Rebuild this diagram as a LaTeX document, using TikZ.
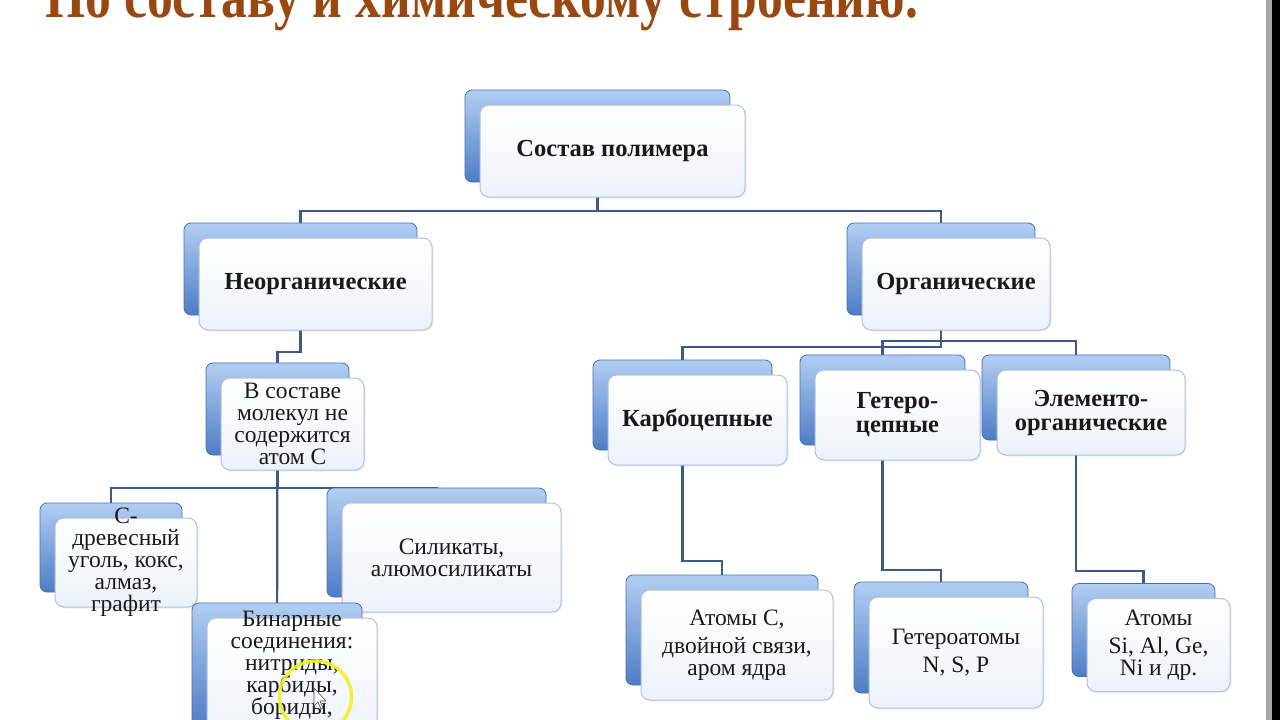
\documentclass[tikz,border=0pt]{standalone}
\usepackage{fontspec}
\usepackage{graphicx}
\setmainfont{Liberation Serif}
\usetikzlibrary{backgrounds,shadows}
\pgfdeclarelayer{bottom}
\pgfsetlayers{bottom,background,main}
\definecolor{conn}{RGB}{58,90,136}
\definecolor{backtop}{RGB}{178,206,242}
\definecolor{backbot}{RGB}{78,124,198}
\definecolor{backedge}{RGB}{70,112,180}
\definecolor{frontedge}{RGB}{176,194,220}
\definecolor{frontbot}{RGB}{236,242,250}
\definecolor{titlebrown}{RGB}{152,72,16}
\definecolor{hilite}{RGB}{240,240,40}
\tikzset{
  backbox/.style={draw=backedge, line width=0.8pt, rounded corners=7pt,
    top color=backtop, bottom color=backbot, inner sep=0pt},
  frontbox/.style={draw=frontedge, line width=1pt, rounded corners=9pt,
    top color=white, bottom color=frontbot, inner sep=0pt, align=center,
    text=black!90, font=\fontsize{23.5}{22}\selectfont,
    drop shadow={shadow xshift=1.5pt, shadow yshift=-1.5pt, opacity=0.12}},
  hd/.style={font=\bfseries\fontsize{24.5}{24}\selectfont},
  txt/.style={inner sep=0pt, align=center, text=black!90, font=\fontsize{23.5}{22}\selectfont},
  link/.style={draw=conn, line width=2.2pt},
}
% #1 style, #2 name, #3 cx, #4 cy, #5 w, #6 h, #7 text
\newcommand\dbx[7][]{%
  \node[backbox, minimum width=#5pt, minimum height=#6pt] (#2b) at (#3-15,#4-15) {};
  \node[frontbox, #1, minimum width=#5pt, minimum height=#6pt] (#2) at (#3,#4) {#7};
}
\begin{document}
\begin{tikzpicture}[x=1pt,y=-1pt]
\useasboundingbox (0,0) rectangle (1280,720);
\begin{pgfonlayer}{bottom}
\fill[white] (0,0) rectangle (1280,720);
\fill[black!35] (1266,0) rectangle (1272,720);
\fill[black] (1272,0) rectangle (1280,720);
\end{pgfonlayer}

\node[anchor=base west, inner sep=0pt, text=titlebrown] (title) at (45,17)
  {\resizebox{873pt}{\height}{\bfseries\fontsize{62}{62}\selectfont По составу и химическому строению.}};

\dbx[hd]{top}{612.5}{151}{265}{92}{Состав полимера}
\dbx[hd]{neorg}{315.5}{284}{233}{92}{Неорганические}
\dbx[hd]{org}{956}{284}{188}{92}{Органические}
\dbx{vsost}{292.5}{424}{143}{92}{В составе\\молекул не\\содержится\\атом C}
\dbx{cdrev}{126}{562.5}{142}{89}{}
\node[txt] (cdrevt) at (126,562) {C-\\древесный\\уголь, кокс,\\алмаз,\\графит};
\dbx{silik}{451.5}{557.5}{219}{109}{Силикаты,\\алюмосиликаты}
\dbx{binar}{292}{680}{170}{124}{}
\node[txt, anchor=north] (binart) at (292,611) {Бинарные\\соединения:\\нитриды,\\карбиды,\\бориды,};
\dbx[hd]{karbo}{697.5}{420}{179}{90}{Карбоцепные}
\dbx[hd]{getero}{897.5}{415}{165}{90}{Гетеро-\\цепные}
\dbx[hd]{elem}{1091}{412.5}{188}{85}{Элементо-\\органические}
\dbx{atc}{737}{645}{192}{110}{Атомы C,\\[6pt]двойной связи,\\аром ядра}
\dbx{getat}{956}{652.5}{174}{111}{Гетероатомы\\[6pt]N, S, P}
\dbx{atsi}{1158.5}{645}{143}{93}{Атомы\\[6pt]Si, Al, Ge,\\Ni и др.}

\coordinate (l1) at (0,211);
\coordinate (l2) at (0,352);
\coordinate (l3) at (0,488);
\coordinate (l4) at (0,347);
\coordinate (l5) at (0,341);
\coordinate (l6) at (0,561);
\coordinate (l7) at (0,570);
\coordinate (l8) at (0,571);

\begin{scope}[on background layer]
\draw[link] (topb.center) -- (topb.center |- l1) -| (neorgb.center);
\draw[link] (topb.center) -- (topb.center |- l1) -| (orgb.center);
\draw[link] (neorgb.center) -- (neorgb.center |- l2) -| (vsostb.center);
\draw[link] (vsostb.center) -- (vsostb.center |- l3) -| (cdrevb.center);
\draw[link] (vsostb.center) -- (vsostb.center |- l3) -| (silikb.center);
\draw[link] (vsostb.center) -- (binarb.center);
\draw[link] (orgb.center) -- (orgb.center |- l4) -| (karbob.center);
\draw[link] (orgb.center) -- (orgb.center |- l5) -| (geterob.center);
\draw[link] (orgb.center) -- (orgb.center |- l5) -| (elemb.center);
\draw[link] (karbob.center) -- (karbob.center |- l6) -| (atcb.center);
\draw[link] (geterob.center) -- (geterob.center |- l7) -| (getatb.center);
\draw[link] (elemb.center) -- (elemb.center |- l8) -| (atsib.center);
\end{scope}

\draw[hilite, line width=3.5pt, opacity=0.9] (315.5,697) circle (36);
\draw[black!70, fill=white, line width=0.6pt, line join=round]
  (314,688) -- (314,706) -- (318,702) -- (321,709) -- (323,708) -- (320,701) -- (326,701) -- cycle;
\end{tikzpicture}
\end{document}
